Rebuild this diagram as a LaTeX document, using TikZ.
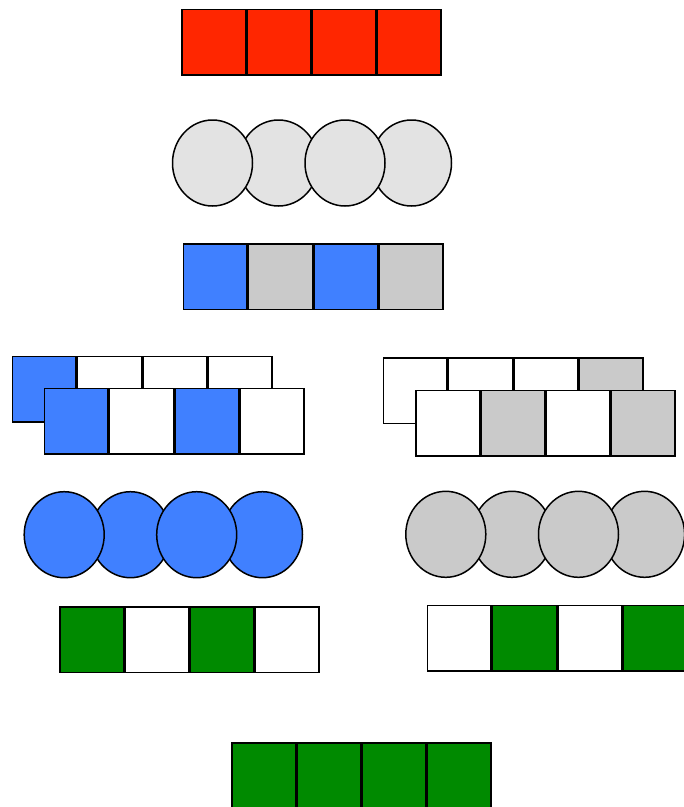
\documentclass[tikz,border=0pt]{standalone}
\usetikzlibrary{shapes.geometric}
\definecolor{cred}{HTML}{FF2600}
\definecolor{clight}{HTML}{E3E3E3}
\definecolor{cgray}{HTML}{CACACA}
\definecolor{cblue}{HTML}{4080FF}
\definecolor{cgreen}{HTML}{008A00}
\begin{document}
\begin{tikzpicture}[x=1pt,y=-1pt,
  sq/.style={draw=black,line width=1.5pt,rectangle,inner sep=0pt,minimum width=63.7pt,minimum height=65.5pt},
  el/.style={draw=black,line width=1.5pt,ellipse,inner sep=0pt,minimum width=80pt,minimum height=86pt}]
\useasboundingbox (0,0) rectangle (684,807);
\clip (0,0) rectangle (684,807);
% row 1
\foreach \i in {0,1,2,3}
  \node[sq,fill=cred] (ra\i) at (213.6+65.2*\i,42) {};
% row 2 ellipses
\node[el,fill=clight] (eb1) at (278.5,163) {};
\node[el,fill=clight] (eb3) at (411.5,163) {};
\node[el,fill=clight] (eb0) at (212.5,163) {};
\node[el,fill=clight] (eb2) at (345,163) {};
% row 3
\foreach \i/\c in {0/cblue,1/cgray,2/cblue,3/cgray}
  \node[sq,fill=\c] (rc\i) at (215.3+65.2*\i,276.7) {};
% row 4 left
\foreach \i/\c in {0/cblue,1/white,2/white,3/white}
  \node[sq,fill=\c] (ld\i) at (44.3+65.2*\i,389) {};
\foreach \i/\c in {0/cblue,1/white,2/cblue,3/white}
  \node[sq,fill=\c] (le\i) at (76.3+65.2*\i,421.3) {};
% row 4 right
\foreach \i/\c in {0/white,1/white,2/white,3/cgray}
  \node[sq,fill=\c] (rd\i) at (415.3+65.2*\i,390.5) {};
\foreach \i/\c in {0/white,1/cgray,2/white,3/cgray}
  \node[sq,fill=\c] (re\i) at (447.6+65.2*\i,423) {};
% row 5 left
\node[el,fill=cblue] (lf1) at (130.4,534.7) {};
\node[el,fill=cblue] (lf3) at (262.5,534.7) {};
\node[el,fill=cblue] (lf0) at (64.2,534.7) {};
\node[el,fill=cblue] (lf2) at (196.7,534.7) {};
% row 5 right
\node[el,fill=cgray] (rf1) at (512,534.3) {};
\node[el,fill=cgray] (rf3) at (644.6,534.3) {};
\node[el,fill=cgray] (rf0) at (445.8,534.3) {};
\node[el,fill=cgray] (rf2) at (578.5,534.3) {};
% row 6 left
\foreach \i/\c in {0/cgreen,1/white,2/cgreen,3/white}
  \node[sq,fill=\c] (lg\i) at (91.6+65.2*\i,639.5) {};
% row 6 right
\foreach \i/\c in {0/white,1/cgreen,2/white,3/cgreen}
  \node[sq,fill=\c] (rg\i) at (459.3+65.2*\i,638.3) {};
% row 7
\foreach \i in {0,1,2,3}
  \node[sq,fill=cgreen] (rh\i) at (263.6+65.2*\i,775.5) {};
\end{tikzpicture}
\end{document}
